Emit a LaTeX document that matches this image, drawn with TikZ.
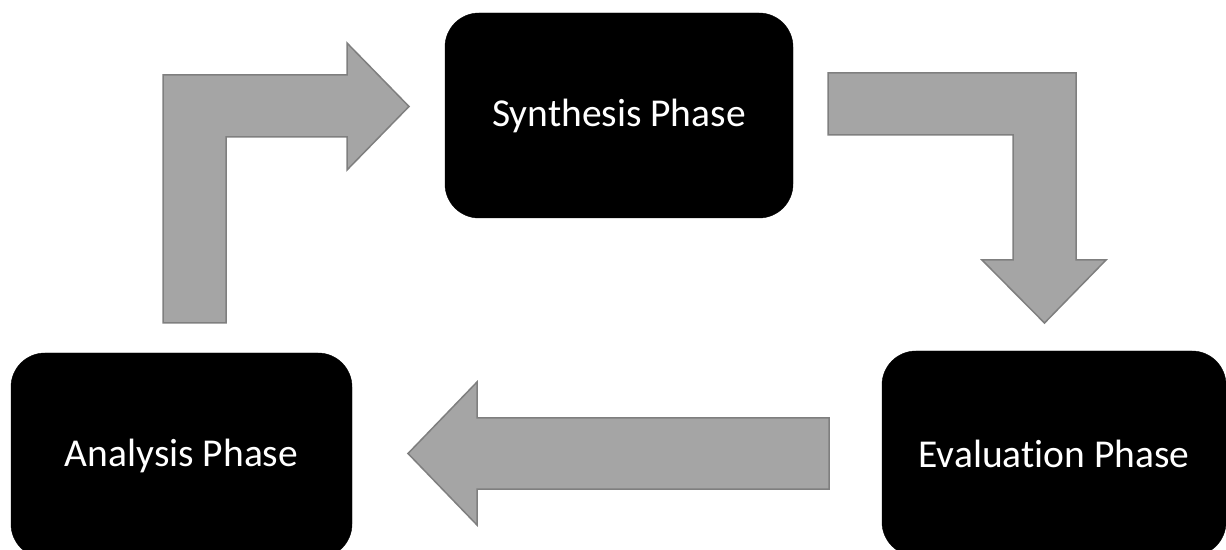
\documentclass[tikz,border=0pt]{standalone}
\usepackage{fontspec}
\setmainfont{Carlito}[Ligatures=NoCommon]
\usepackage{tikz}
\usetikzlibrary{shapes}
\definecolor{arrowgray}{HTML}{A5A5A5}
\definecolor{arrowedge}{HTML}{7F7F7F}
\tikzstyle{phase}=[rectangle, rounded corners=34pt, fill=black, draw=black, text=white,
        minimum height=205pt, text centered, font=\fontsize{39.5}{46}\selectfont]
\tikzstyle{blockarrow}=[fill=arrowgray, draw=arrowedge, line width=1.5pt, line join=miter]

\begin{document}
\begin{tikzpicture}[x=1pt, y=1pt]
\useasboundingbox (0,0) rectangle (1226,549);
\node [phase, minimum width=348pt] (syn) at (619,433.5) {Synthesis Phase};
\node [phase, minimum width=341pt] (ana) at (181.5,93.5) {Analysis Phase};
\node [phase, minimum width=344pt] (eva) at (1054,95.5) {Evaluation Phase};
% analysis -> synthesis
\draw [blockarrow] (163,226) -- (226,226) -- (226,412) -- (347,412) -- (347,379)
    -- (409,442.5) -- (347,506) -- (347,474) -- (163,474) -- cycle;
% synthesis -> evaluation
\draw [blockarrow] (828,476) -- (1076,476) -- (1076,289) -- (1106,289) -- (1044.5,226)
    -- (982,289) -- (1013,289) -- (1013,414) -- (828,414) -- cycle;
% evaluation -> analysis
\draw [blockarrow] (829,131) -- (477,131) -- (477,167) -- (408,95.5) -- (477,24)
    -- (477,60) -- (829,60) -- cycle;
\end{tikzpicture}
\end{document}
